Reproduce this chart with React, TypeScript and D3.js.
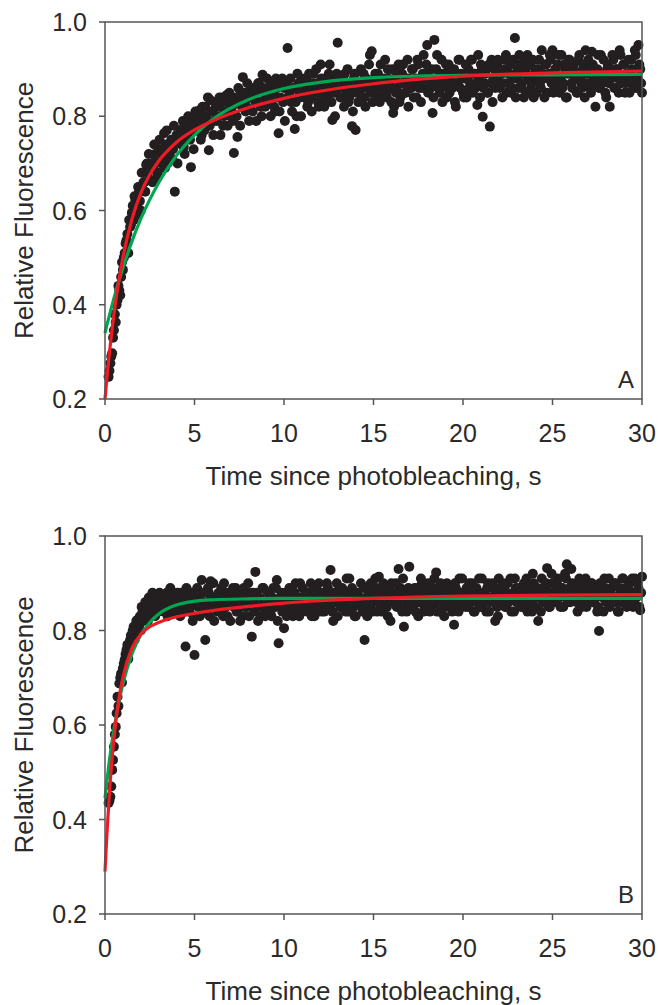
import React from "react";
import * as d3 from "d3";

// ---- data ----
// frames are recorded every 0.05 s; the two arrays per panel hold alternating frames
const FRAME_T0_EVEN = 0.2; // s
const FRAME_T0_ODD = 0.25; // s
const FRAME_STEP = 0.1; // s between frames within one array

const xTicks = [0, 5, 10, 15, 20, 25, 30];
const yTicks = [0.2, 0.4, 0.6, 0.8, 1.0];

const valuesAEven = [
  0.247, 0.276, 0.297, 0.346, 0.363, 0.41, 0.43, 0.459, 0.474, 0.51,
  0.537, 0.51, 0.565, 0.595, 0.58, 0.622, 0.61, 0.64, 0.6, 0.643,
  0.66, 0.697, 0.68, 0.665, 0.7, 0.69, 0.72, 0.67, 0.71, 0.73,
  0.714, 0.764, 0.74, 0.7, 0.722, 0.75, 0.73, 0.64, 0.76, 0.745,
  0.771, 0.75, 0.735, 0.78, 0.76, 0.79, 0.692, 0.792, 0.77, 0.8,
  0.78, 0.813, 0.76, 0.8, 0.82, 0.79, 0.728, 0.834, 0.81, 0.79,
  0.82, 0.8, 0.84, 0.83, 0.78, 0.81, 0.845, 0.83, 0.8, 0.82,
  0.722, 0.84, 0.756, 0.841, 0.85, 0.883, 0.83, 0.82, 0.85, 0.84,
  0.84, 0.86, 0.83, 0.85, 0.87, 0.82, 0.888, 0.85, 0.84, 0.86,
  0.83, 0.87, 0.85, 0.81, 0.86, 0.764, 0.84, 0.88, 0.86, 0.87,
  0.945, 0.85, 0.83, 0.86, 0.773, 0.8, 0.87, 0.84, 0.88, 0.85,
  0.86, 0.82, 0.89, 0.84, 0.87, 0.85, 0.9, 0.83, 0.86, 0.88,
  0.85, 0.87, 0.84, 0.89, 0.86, 0.792, 0.85, 0.88, 0.956, 0.86,
  0.84, 0.87, 0.89, 0.85, 0.83, 0.86, 0.779, 0.88, 0.771, 0.87,
  0.85, 0.9, 0.86, 0.84, 0.88, 0.87, 0.93, 0.938, 0.85, 0.89,
  0.87, 0.84, 0.91, 0.86, 0.88, 0.85, 0.9, 0.87, 0.83, 0.807,
  0.88, 0.86, 0.91, 0.84, 0.89, 0.87, 0.85, 0.92, 0.88, 0.86,
  0.9, 0.87, 0.84, 0.91, 0.88, 0.86, 0.93, 0.89, 0.951, 0.87,
  0.86, 0.807, 0.962, 0.9, 0.88, 0.85, 0.92, 0.87, 0.89, 0.84,
  0.91, 0.88, 0.86, 0.9, 0.82, 0.87, 0.92, 0.89, 0.85, 0.88,
  0.84, 0.9, 0.87, 0.92, 0.89, 0.86, 0.824, 0.88, 0.91, 0.799,
  0.87, 0.9, 0.85, 0.778, 0.92, 0.88, 0.86, 0.91, 0.89, 0.87,
  0.84, 0.9, 0.93, 0.87, 0.89, 0.85, 0.92, 0.966, 0.88, 0.86,
  0.91, 0.87, 0.84, 0.9, 0.93, 0.88, 0.86, 0.92, 0.89, 0.85,
  0.9, 0.87, 0.94, 0.88, 0.91, 0.85, 0.89, 0.92, 0.94, 0.86,
  0.88, 0.91, 0.85, 0.93, 0.87, 0.9, 0.84, 0.92, 0.89, 0.86,
  0.91, 0.88, 0.85, 0.93, 0.87, 0.9, 0.84, 0.89, 0.92, 0.86,
  0.937, 0.88, 0.82, 0.9, 0.86, 0.93, 0.87, 0.89, 0.84, 0.91,
  0.82, 0.88, 0.92, 0.86, 0.9, 0.85, 0.93, 0.88, 0.91, 0.87,
  0.89, 0.85, 0.92, 0.88, 0.94, 0.86, 0.951, 0.9, 0.85,
];

const valuesAOdd = [
  0.26, 0.29, 0.33, 0.38, 0.4, 0.44, 0.42, 0.49, 0.5, 0.53,
  0.55, 0.58, 0.57, 0.61, 0.63, 0.59, 0.65, 0.62, 0.68, 0.66,
  0.64, 0.7, 0.72, 0.69, 0.66, 0.74, 0.71, 0.68, 0.75, 0.7,
  0.73, 0.69, 0.77, 0.72, 0.74, 0.71, 0.78, 0.75, 0.7, 0.76,
  0.74, 0.79, 0.72, 0.77, 0.8, 0.75, 0.78, 0.73, 0.81, 0.77,
  0.79, 0.75, 0.82, 0.77, 0.8, 0.84, 0.78, 0.81, 0.76, 0.83,
  0.79, 0.82, 0.76, 0.84, 0.8, 0.83, 0.78, 0.85, 0.81, 0.79,
  0.83, 0.8, 0.86, 0.78, 0.82, 0.85, 0.81, 0.87, 0.79, 0.84,
  0.81, 0.85, 0.79, 0.87, 0.83, 0.8, 0.86, 0.82, 0.88, 0.84,
  0.8, 0.85, 0.82, 0.88, 0.84, 0.81, 0.87, 0.83, 0.79, 0.86,
  0.84, 0.88, 0.81, 0.86, 0.83, 0.89, 0.85, 0.8, 0.87, 0.84,
  0.88, 0.83, 0.86, 0.81, 0.89, 0.85, 0.87, 0.82, 0.91, 0.84,
  0.82, 0.88, 0.85, 0.91, 0.83, 0.87, 0.8, 0.89, 0.86, 0.84,
  0.88, 0.82, 0.86, 0.9, 0.84, 0.87, 0.81, 0.89, 0.85, 0.83,
  0.87, 0.84, 0.89, 0.82, 0.86, 0.91, 0.85, 0.83, 0.88, 0.86,
  0.89, 0.83, 0.87, 0.85, 0.92, 0.84, 0.88, 0.86, 0.9, 0.82,
  0.85, 0.89, 0.83, 0.87, 0.91, 0.85, 0.88, 0.82, 0.86, 0.9,
  0.84, 0.88, 0.92, 0.86, 0.83, 0.89, 0.87, 0.91, 0.85, 0.88,
  0.9, 0.84, 0.87, 0.93, 0.86, 0.89, 0.83, 0.88, 0.91, 0.86,
  0.85, 0.9, 0.87, 0.83, 0.89, 0.92, 0.86, 0.88, 0.84, 0.91,
  0.88, 0.86, 0.92, 0.85, 0.89, 0.87, 0.93, 0.84, 0.9, 0.86,
  0.89, 0.85, 0.91, 0.87, 0.83, 0.9, 0.88, 0.92, 0.86, 0.89,
  0.87, 0.92, 0.85, 0.89, 0.91, 0.86, 0.88, 0.84, 0.9, 0.93,
  0.86, 0.89, 0.92, 0.85, 0.88, 0.91, 0.87, 0.84, 0.9, 0.88,
  0.92, 0.86, 0.89, 0.84, 0.91, 0.88, 0.93, 0.87, 0.85, 0.9,
  0.87, 0.93, 0.88, 0.86, 0.91, 0.84, 0.89, 0.92, 0.87, 0.9,
  0.89, 0.85, 0.92, 0.88, 0.86, 0.91, 0.94, 0.87, 0.9, 0.85,
  0.91, 0.87, 0.89, 0.93, 0.86, 0.88, 0.92, 0.85, 0.9, 0.87,
  0.89, 0.93, 0.86, 0.9, 0.88, 0.94, 0.87, 0.91, 0.85, 0.89,
  0.92, 0.87, 0.9, 0.86, 0.93, 0.88, 0.91, 0.87,
];

const valuesBEven = [
  0.435, 0.448, 0.505, 0.554, 0.596, 0.66, 0.688, 0.709, 0.72, 0.738,
  0.759, 0.74, 0.78, 0.77, 0.808, 0.79, 0.822, 0.81, 0.8, 0.84,
  0.83, 0.857, 0.82, 0.861, 0.84, 0.85, 0.83, 0.86, 0.845, 0.87,
  0.85, 0.84, 0.87, 0.83, 0.86, 0.88, 0.85, 0.84, 0.879, 0.86,
  0.83, 0.87, 0.85, 0.766, 0.86, 0.84, 0.88, 0.82, 0.748, 0.87,
  0.85, 0.83, 0.907, 0.86, 0.78, 0.84, 0.88, 0.904, 0.85, 0.82,
  0.87, 0.84, 0.86, 0.89, 0.83, 0.85, 0.88, 0.86, 0.82, 0.87,
  0.85, 0.89, 0.84, 0.86, 0.88, 0.83, 0.87, 0.85, 0.9, 0.86,
  0.787, 0.88, 0.924, 0.85, 0.87, 0.83, 0.89, 0.86, 0.84, 0.88,
  0.86, 0.83, 0.89, 0.85, 0.907, 0.773, 0.87, 0.84, 0.805, 0.88,
  0.85, 0.89, 0.86, 0.83, 0.88, 0.87, 0.84, 0.9, 0.86, 0.85,
  0.88, 0.84, 0.87, 0.9, 0.85, 0.83, 0.89, 0.86, 0.88, 0.84,
  0.87, 0.85, 0.9, 0.86, 0.928, 0.84, 0.88, 0.86, 0.83, 0.89,
  0.85, 0.88, 0.86, 0.91, 0.84, 0.87, 0.89, 0.85, 0.83, 0.88,
  0.86, 0.9, 0.84, 0.78, 0.87, 0.89, 0.85, 0.88, 0.86, 0.91,
  0.84, 0.914, 0.87, 0.85, 0.89, 0.86, 0.83, 0.88, 0.9, 0.86,
  0.87, 0.85, 0.93, 0.89, 0.84, 0.808, 0.88, 0.86, 0.935, 0.87,
  0.85, 0.89, 0.86, 0.83, 0.88, 0.9, 0.84, 0.87, 0.89, 0.86,
  0.88, 0.85, 0.91, 0.923, 0.86, 0.84, 0.89, 0.87, 0.85, 0.9,
  0.86, 0.88, 0.84, 0.812, 0.89, 0.87, 0.91, 0.85, 0.88, 0.86,
  0.89, 0.85, 0.87, 0.9, 0.84, 0.88, 0.86, 0.91, 0.85, 0.87,
  0.88, 0.84, 0.9, 0.86, 0.89, 0.87, 0.82, 0.85, 0.91, 0.88,
  0.86, 0.89, 0.85, 0.9, 0.87, 0.84, 0.88, 0.91, 0.86, 0.89,
  0.87, 0.85, 0.9, 0.88, 0.84, 0.89, 0.86, 0.92, 0.87, 0.85,
  0.82, 0.88, 0.91, 0.86, 0.89, 0.932, 0.85, 0.87, 0.9, 0.88,
  0.86, 0.91, 0.87, 0.89, 0.85, 0.92, 0.94, 0.88, 0.86, 0.9,
  0.87, 0.89, 0.84, 0.91, 0.86, 0.88, 0.9, 0.85, 0.89, 0.87,
  0.9, 0.86, 0.88, 0.84, 0.799, 0.89, 0.87, 0.91, 0.86, 0.88,
  0.85, 0.89, 0.87, 0.9, 0.86, 0.84, 0.88, 0.91, 0.87, 0.89,
  0.86, 0.9, 0.88, 0.85, 0.91, 0.87, 0.89, 0.843, 0.914,
];

const valuesBOdd = [
  0.44, 0.47, 0.526, 0.58, 0.625, 0.64, 0.7, 0.69, 0.73, 0.75,
  0.77, 0.76, 0.79, 0.8, 0.78, 0.82, 0.8, 0.83, 0.85, 0.82,
  0.86, 0.84, 0.87, 0.83, 0.88, 0.85, 0.87, 0.84, 0.88, 0.86,
  0.87, 0.85, 0.88, 0.86, 0.89, 0.84, 0.87, 0.86, 0.88, 0.85,
  0.88, 0.86, 0.84, 0.89, 0.87, 0.85, 0.88, 0.83, 0.86, 0.89,
  0.87, 0.85, 0.88, 0.84, 0.86, 0.89, 0.83, 0.87, 0.9, 0.85,
  0.86, 0.88, 0.84, 0.87, 0.9, 0.85, 0.83, 0.88, 0.86, 0.89,
  0.87, 0.84, 0.88, 0.82, 0.86, 0.89, 0.85, 0.87, 0.83, 0.88,
  0.86, 0.84, 0.88, 0.82, 0.87, 0.85, 0.89, 0.83, 0.86, 0.88,
  0.84, 0.87, 0.85, 0.89, 0.82, 0.86, 0.88, 0.85, 0.87, 0.83,
  0.87, 0.84, 0.88, 0.86, 0.9, 0.85, 0.83, 0.87, 0.89, 0.86,
  0.85, 0.88, 0.86, 0.83, 0.89, 0.87, 0.84, 0.9, 0.86, 0.88,
  0.84, 0.87, 0.89, 0.85, 0.88, 0.82, 0.86, 0.9, 0.87, 0.85,
  0.89, 0.86, 0.84, 0.88, 0.91, 0.85, 0.87, 0.83, 0.88, 0.86,
  0.87, 0.85, 0.89, 0.86, 0.83, 0.88, 0.9, 0.84, 0.87, 0.89,
  0.86, 0.88, 0.84, 0.9, 0.87, 0.85, 0.89, 0.82, 0.86, 0.88,
  0.9, 0.86, 0.88, 0.85, 0.91, 0.87, 0.84, 0.89, 0.86, 0.88,
  0.87, 0.84, 0.89, 0.86, 0.91, 0.88, 0.85, 0.87, 0.9, 0.84,
  0.86, 0.89, 0.87, 0.84, 0.88, 0.9, 0.86, 0.83, 0.88, 0.87,
  0.89, 0.85, 0.87, 0.9, 0.86, 0.84, 0.88, 0.91, 0.87, 0.85,
  0.87, 0.9, 0.86, 0.88, 0.84, 0.89, 0.87, 0.85, 0.91, 0.88,
  0.86, 0.89, 0.84, 0.87, 0.9, 0.86, 0.88, 0.83, 0.89, 0.87,
  0.9, 0.85, 0.88, 0.86, 0.91, 0.87, 0.84, 0.89, 0.86, 0.88,
  0.85, 0.89, 0.87, 0.91, 0.86, 0.88, 0.84, 0.9, 0.87, 0.89,
  0.87, 0.84, 0.89, 0.86, 0.9, 0.88, 0.85, 0.92, 0.87, 0.89,
  0.9, 0.87, 0.85, 0.89, 0.88, 0.91, 0.86, 0.89, 0.93, 0.87,
  0.88, 0.86, 0.9, 0.87, 0.85, 0.89, 0.91, 0.86, 0.88, 0.9,
  0.86, 0.89, 0.87, 0.85, 0.9, 0.88, 0.84, 0.89, 0.87, 0.91,
  0.88, 0.86, 0.9, 0.87, 0.84, 0.89, 0.86, 0.91, 0.88, 0.85,
  0.89, 0.87, 0.91, 0.86, 0.88, 0.9, 0.85, 0.88,
];

// fitted curves at these times
const fitTimes = [0, 0.1, 0.25, 0.5, 0.75, 1, 1.5, 2, 2.5, 3, 4, 5, 6, 8, 10, 12, 15, 20, 25, 30];
const greenFitA = [0.34, 0.356, 0.378, 0.414, 0.447, 0.478, 0.534, 0.582, 0.623, 0.659, 0.717, 0.76, 0.793, 0.835, 0.859, 0.872, 0.882, 0.887, 0.888, 0.889];
const redFitA = [0.2, 0.242, 0.299, 0.38, 0.446, 0.5, 0.581, 0.637, 0.676, 0.705, 0.745, 0.771, 0.79, 0.818, 0.838, 0.853, 0.869, 0.885, 0.892, 0.896];
const greenFitB = [0.445, 0.479, 0.526, 0.591, 0.644, 0.687, 0.75, 0.791, 0.817, 0.835, 0.854, 0.862, 0.865, 0.867, 0.868, 0.868, 0.868, 0.868, 0.868, 0.868];
const redFitB = [0.29, 0.365, 0.458, 0.572, 0.649, 0.701, 0.762, 0.792, 0.808, 0.817, 0.829, 0.836, 0.842, 0.851, 0.858, 0.863, 0.868, 0.873, 0.875, 0.876];

// ---- drawing ----
const W = 658;
const H = 1005;
const FONT = "Arial, 'Liberation Sans', Helvetica, sans-serif";
const AXIS = "#555555";
const TEXT = "#2a2a2a";
const GREEN = "#00a651";
const RED = "#ed1c24";
const DOT = "#231f20";

type PanelProps = {
  even: number[];
  odd: number[];
  green: number[];
  red: number[];
  letter: string;
  top: number;
  bottom: number;
};

function Panel({ even, odd, green, red, letter, top, bottom }: PanelProps) {
  const left = 105;
  const right = 642;
  const x = d3.scaleLinear().domain([0, 30]).range([left, right]);
  const y = d3.scaleLinear().domain([0.2, 1.0]).range([bottom, top]);
  const pts: [number, number][] = [];
  even.forEach((v, i) => pts.push([FRAME_T0_EVEN + i * FRAME_STEP, v]));
  odd.forEach((v, i) => pts.push([FRAME_T0_ODD + i * FRAME_STEP, v]));
  const line = d3
    .line<number>()
    .x((_, i) => x(fitTimes[i]))
    .y((d) => y(d))
    .curve(d3.curveMonotoneX);

  return (
    <g>
      <g>
        {pts.map((p, i) => (
          <circle key={i} cx={x(p[0])} cy={y(p[1])} r={5} fill={DOT} />
        ))}
      </g>
      <path d={line(green) || ""} fill="none" stroke={GREEN} strokeWidth={3.2} />
      <path d={line(red) || ""} fill="none" stroke={RED} strokeWidth={3.2} />
      <rect x={left} y={top} width={right - left} height={bottom - top} fill="none" stroke={AXIS} strokeWidth={1.5} />
      {xTicks.map((t) => (
        <g key={"x" + t}>
          <line x1={x(t)} x2={x(t)} y1={bottom} y2={bottom + 6} stroke={AXIS} strokeWidth={1.5} />
          <text x={x(t)} y={bottom + 43} textAnchor="middle" fontSize={25} fontFamily={FONT} fill={TEXT}>
            {t}
          </text>
        </g>
      ))}
      {yTicks.map((t) => (
        <g key={"y" + t}>
          <line x1={left - 6} x2={left} y1={y(t)} y2={y(t)} stroke={AXIS} strokeWidth={1.5} />
          <text x={left - 18} y={y(t) + 9} textAnchor="end" fontSize={25} fontFamily={FONT} fill={TEXT}>
            {t.toFixed(1)}
          </text>
        </g>
      ))}
      <text x={(left + right) / 2} y={bottom + 86} textAnchor="middle" fontSize={26} fontFamily={FONT} fill={TEXT}>
        Time since photobleaching, s
      </text>
      <text
        transform={`translate(33, ${(top + bottom) / 2}) rotate(-90)`}
        textAnchor="middle"
        fontSize={26}
        fontFamily={FONT}
        fill={TEXT}
      >
        Relative Fluorescence
      </text>
      <text x={634} y={bottom - 11} textAnchor="end" fontSize={24} fontFamily={FONT} fill={TEXT}>
        {letter}
      </text>
    </g>
  );
}

export default function App() {
  return (
    <svg
      width={W}
      height={H}
      viewBox={`0 0 ${W} ${H}`}
      style={{ position: "absolute", left: 0, top: 0, background: "#fff" }}
    >
      <rect width={W} height={H} fill="#fff" />
      <Panel even={valuesAEven} odd={valuesAOdd} green={greenFitA} red={redFitA} letter="A" top={22} bottom={399} />
      <Panel even={valuesBEven} odd={valuesBOdd} green={greenFitB} red={redFitB} letter="B" top={536} bottom={914} />
    </svg>
  );
}
